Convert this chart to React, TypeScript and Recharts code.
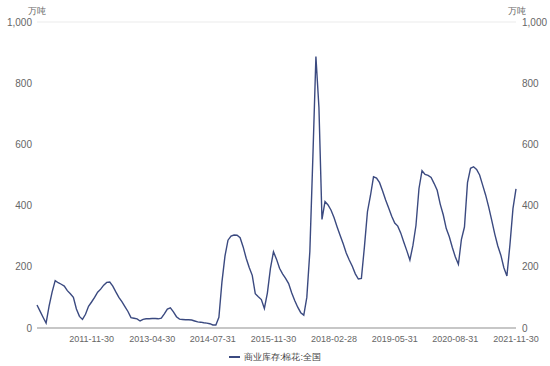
import React from 'react';
import { LineChart, Line, XAxis, YAxis, CartesianGrid, Legend } from 'recharts';

// dates that carry an x-axis label (every 20th point)
const tickDates = ['2011-11-30', '2013-04-30', '2014-07-31', '2015-11-30', '2018-02-28', '2019-05-31', '2020-08-31', '2021-11-30'];
const leadPoints = 18;
const pointsPerTick = 20;

// 商业库存:棉花:全国 (万吨)
const stock = [
  75, 55, 35, 16, 72, 118, 155, 148, 143, 137, 122, 112, 100, 62, 38, 28, 45, 71,
  85, 100, 117, 127, 140, 149, 150, 137, 118, 100, 86, 70, 54, 34, 32, 30, 23, 28, 30, 30,
  31, 31, 30, 32, 46, 62, 66, 53, 37, 29, 28, 27, 27, 26, 23, 20, 19, 17, 16, 14,
  10, 10, 35, 150, 235, 287, 300, 304, 303, 295, 265, 228, 198, 172, 112, 102, 93, 64, 115, 195,
  249, 225, 195, 177, 162, 145, 115, 90, 68, 50, 42, 100, 250, 560, 887, 720, 355, 413, 402, 385,
  360, 330, 302, 275, 245, 222, 202, 177, 160, 162, 265, 380, 433, 494, 490, 475, 448, 418, 392, 365,
  343, 333, 310, 280, 252, 222, 270, 335, 456, 514, 502, 499, 492, 472, 450, 405, 370, 325, 298, 263,
  232, 208, 290, 330, 475, 522, 527, 518, 500, 467, 434, 395, 352, 307, 268, 238, 197, 170, 272, 390,
  455,
];

const yTicks = [0, 200, 400, 600, 800, 1000];
const seriesName = '商业库存:棉花:全国';
const lineColor = '#3b4a80';

const DAY = 86400000;
const toTime = (s: string) => new Date(s + 'T00:00:00Z').getTime();

// spread the date labels between the labelled anchor dates
const dateAt = (i: number) => {
  const k = Math.min(Math.max(Math.floor((i - leadPoints) / pointsPerTick), 0), tickDates.length - 2);
  const a = toTime(tickDates[k]);
  const b = toTime(tickDates[k + 1]);
  const t = a + ((b - a) * (i - leadPoints - k * pointsPerTick)) / pointsPerTick;
  return new Date(Math.round(t / DAY) * DAY).toISOString().slice(0, 10);
};

const data = stock.map((v, i) => ({ date: dateAt(i), value: v }));

const fmt = (v: number) => v.toLocaleString('en-US');
const axisText = { fontSize: 10, fill: '#666', fontFamily: 'Liberation Sans, Arial, sans-serif' };

const LegendBox = () => (
  <div style={{ display: 'flex', justifyContent: 'center', alignItems: 'center', height: 18, fontSize: 9, color: '#444', fontFamily: 'Liberation Sans, Arial, sans-serif' }}>
    <span style={{ display: 'inline-block', width: 11, height: 2, background: lineColor, marginRight: 4 }} />
    <span>{seriesName}</span>
  </div>
);

const App: React.FC = () => {
  return (
    <div style={{ position: 'absolute', left: 0, top: 0, background: '#fff' }}>
      <LineChart width={550} height={366} data={data} margin={{ top: 22, right: 0, left: 0, bottom: 0 }}>
        <CartesianGrid vertical={false} stroke="#ebebeb" />
        <XAxis
          dataKey="date"
          ticks={tickDates}
          interval={0}
          height={20}
          tickLine={false}
          stroke="#999"
          tick={{ ...axisText, fontSize: 9 }}
        />
        <YAxis
          yAxisId="left"
          domain={[0, 1000]}
          ticks={yTicks}
          tickFormatter={fmt}
          width={37}
          axisLine={false}
          tickLine={false}
          tickSize={5}
          tickMargin={0}
          tick={axisText}
          label={{ value: '万吨', position: 'top', offset: 8, dx: 18, style: { fontSize: 9, fill: '#666' } }}
        />
        <YAxis
          yAxisId="right"
          orientation="right"
          domain={[0, 1000]}
          ticks={yTicks}
          tickFormatter={fmt}
          width={34}
          axisLine={false}
          tickLine={false}
          tickSize={6}
          tickMargin={0}
          tick={axisText}
          label={{ value: '万吨', position: 'top', offset: 8, dx: -16, style: { fontSize: 9, fill: '#666' } }}
        />
        <Legend verticalAlign="bottom" height={18} content={() => <LegendBox />} />
        <Line
          yAxisId="left"
          type="linear"
          dataKey="value"
          name={seriesName}
          stroke={lineColor}
          strokeWidth={1.4}
          dot={false}
          isAnimationActive={false}
        />
        <Line
          yAxisId="right"
          dataKey="value"
          stroke="none"
          dot={false}
          activeDot={false}
          legendType="none"
          isAnimationActive={false}
        />
      </LineChart>
    </div>
  );
};

export default App;
